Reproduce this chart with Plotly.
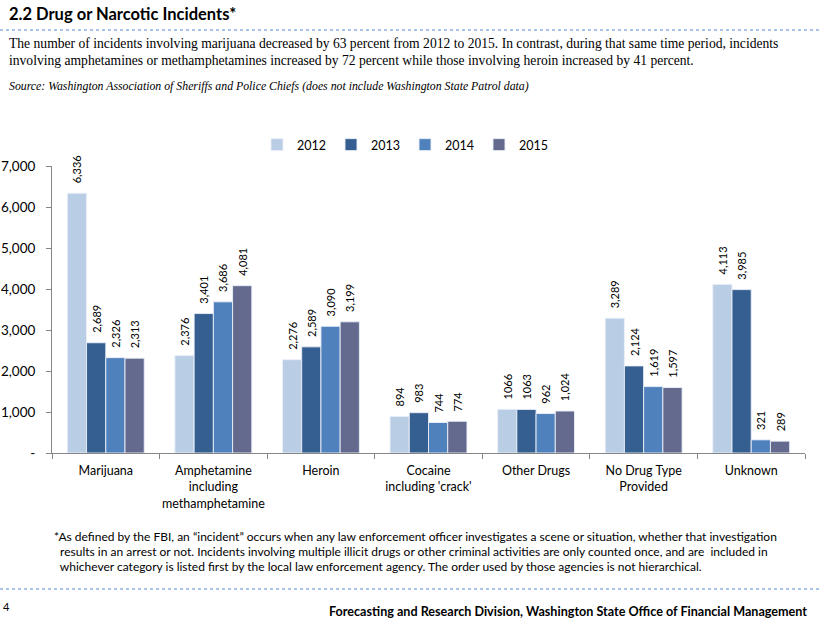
import plotly.graph_objects as go

categories = ["Marijuana", "Amphetamine<br>including<br>methamphetamine", "Heroin",
              "Cocaine<br>including 'crack'", "Other Drugs", "No Drug Type<br>Provided", "Unknown"]
years = ["2012", "2013", "2014", "2015"]
v2012 = [6336, 2376, 2276, 894, 1066, 3289, 4113]
v2013 = [2689, 3401, 2589, 983, 1063, 2124, 3985]
v2014 = [2326, 3686, 3090, 744, 962, 1619, 321]
v2015 = [2313, 4081, 3199, 774, 1024, 1597, 289]
# data labels as printed in the source (two "Other Drugs" labels lack a thousands separator)
t2012 = ["6,336", "2,376", "2,276", "894", "1066", "3,289", "4,113"]
t2013 = ["2,689", "3,401", "2,589", "983", "1063", "2,124", "3,985"]
t2014 = ["2,326", "3,686", "3,090", "744", "962", "1,619", "321"]
t2015 = ["2,313", "4,081", "3,199", "774", "1,024", "1,597", "289"]
tick_vals = [0, 1000, 2000, 3000, 4000, 5000, 6000, 7000]
tick_text = ["-", "1,000", "2,000", "3,000", "4,000", "5,000", "6,000", "7,000"]

colors = ["#B9CDE5", "#365F91", "#4F81BD", "#636A8D"]
series = [v2012, v2013, v2014, v2015]
labels = [t2012, t2013, t2014, t2015]
LABEL_PAD = "\u2002\u2009"  # small gap between bar top and rotated label

W, H = 820, 628
# screen positions of the plot area
SL, SR, ST, SB = 52, 805, 166, 453
L, T, R, B = SL, ST, W - SR, H - SB
PW, PH = W - L - R, H - T - B

def px(x):
    return (x - L) / PW

def py(y):
    return (H - B - y) / PH

fig = go.Figure()
for yr, vals, txt, c in zip(years, series, labels, colors):
    fig.add_trace(go.Bar(
        name=yr, x=categories, y=vals, text=[LABEL_PAD + t for t in txt],
        textposition="outside", textangle=-90, constraintext="none",
        cliponaxis=False,
        textfont=dict(family="Lato", size=11, color="#000000"),
        marker=dict(color=c, line=dict(color="rgba(235,240,248,0.9)", width=1)),
        hoverinfo="skip",
    ))

font_sans = "Lato"
ann = []
ann.append(dict(text="<b>2.2 Drug or Narcotic Incidents*</b>", x=px(7), y=py(14), xanchor="left", yanchor="middle",
                font=dict(family=font_sans, size=16.5, color="#000000")))
ann.append(dict(text="The number of incidents involving marijuana decreased by 63 percent from 2012 to 2015. In contrast, during that same time period, incidents",
                x=px(7), y=py(44), xanchor="left", yanchor="middle",
                font=dict(family="Liberation Serif", size=13.6, color="#000000")))
ann.append(dict(text="involving amphetamines or methamphetamines increased by 72 percent while those involving heroin increased by 41 percent.",
                x=px(7), y=py(61), xanchor="left", yanchor="middle",
                font=dict(family="Liberation Serif", size=13.6, color="#000000")))
ann.append(dict(text="<i>Source: Washington Association of Sheriffs and Police Chiefs (does not include Washington State Patrol data)</i>",
                x=px(7), y=py(86), xanchor="left", yanchor="middle",
                font=dict(family="Liberation Serif", size=11.8, color="#000000")))
foot = ["*As defined by the FBI, an \u201cincident\u201d occurs when any law enforcement officer investigates a scene or situation, whether that investigation",
        " results in an arrest or not. Incidents involving multiple illicit drugs or other criminal activities are only counted once, and are  included in",
        " whichever category is listed first by the local law enforcement agency. The order used by those agencies is not hierarchical."]
for i, line in enumerate(foot):
    ann.append(dict(text=line, x=px(52 if i == 0 else 55), y=py(536 + 15 * i), xanchor="left", yanchor="middle",
                    font=dict(family=font_sans, size=12, color="#000000")))
ann.append(dict(text="<b>Forecasting and Research Division, Washington State Office of Financial Management</b>",
                x=px(809), y=py(611), xanchor="right", yanchor="middle",
                font=dict(family=font_sans, size=12.6, color="#000000")))
ann.append(dict(text="4", x=px(1), y=py(606), xanchor="left", yanchor="middle",
                font=dict(family=font_sans, size=11, color="#000000")))
for a in ann:
    a.update(xref="paper", yref="paper", showarrow=False)

shapes = []
for yy in (30, 589):
    shapes.append(dict(type="line", xref="paper", yref="paper", x0=px(0), x1=px(820), y0=py(yy), y1=py(yy),
                       line=dict(color="#8DB3E2", width=1.5, dash="dot")))

fig.update_layout(
    width=W, height=H,
    margin=dict(l=L, r=R, t=T, b=B, autoexpand=False),
    paper_bgcolor="white", plot_bgcolor="white",
    barmode="group", bargap=0.285, bargroupgap=0,
    font=dict(family=font_sans, size=12, color="#000000"),
    legend=dict(orientation="h", x=px(405), y=py(145), xanchor="center", yanchor="middle",
                font=dict(family=font_sans, size=12.5), itemwidth=30,
                bgcolor="rgba(0,0,0,0)"),
    annotations=ann, shapes=shapes,
    xaxis=dict(showline=True, linecolor="#868686", linewidth=1, ticks="outside", tickson="boundaries",
               ticklen=5, tickcolor="#868686", showgrid=False, tickangle=0, automargin=False,
               ticklabelstandoff=6,
               tickfont=dict(family=font_sans, size=12.5, color="#000000")),
    yaxis=dict(range=[0, 7000], showline=True, linecolor="#868686", linewidth=1, ticks="outside",
               ticklen=5, tickcolor="#868686", showgrid=False, zeroline=False, automargin=False,
               tickvals=tick_vals, ticktext=tick_text, ticklabelstandoff=8,
               tickfont=dict(family=font_sans, size=13.5, color="#000000")),
)

fig.write_html("out.html", config={"displayModeBar": False},
               post_script="document.body.style.margin='0';document.body.style.overflow='hidden';")
